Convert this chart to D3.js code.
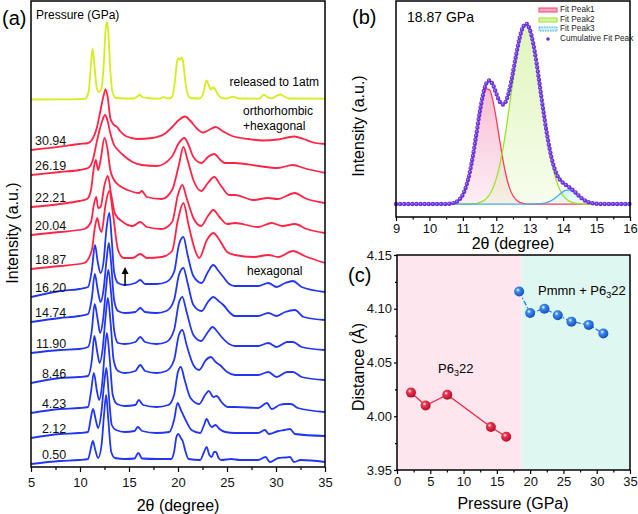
<!DOCTYPE html>
<html>
<head>
<meta charset="utf-8">
<script src="https://cdn.jsdelivr.net/npm/d3@7"></script>
<style>
  body { margin: 0; background: #fff; }
  svg { display: block; font-family: "Liberation Sans", Arial, sans-serif; }
</style>
</head>
<body>
<svg id="fig"></svg>
<script>
// ---------- data: panel (a), XRD patterns [2theta, intensity a.u.] ----------
const released = [[5,367.5],[8.95,367.7],[10.52,368.2],[10.87,375],[11.12,402],[11.29,418.5],[11.47,402],[11.71,379],[11.95,375],[12.2,379],[12.45,407],[12.61,437],[12.75,445],[12.89,435],[13.09,397],[13.34,374],[13.68,369],[15.46,368.5],[15.85,370.5],[16.1,372.5],[16.34,370],[17.33,368.5],[18.02,368.3],[18.51,369.8],[19.01,368.5],[19.4,370],[19.7,387],[19.9,405],[20.04,408.5],[20.21,407],[20.37,409.5],[20.54,404],[20.73,387],[20.98,373],[21.28,369],[22.16,368.5],[22.56,373],[22.76,382],[22.92,386.5],[23.1,383],[23.35,377.5],[23.54,379.5],[23.74,378.5],[24.04,373],[24.43,369.2],[25.02,368.5],[25.62,370.4],[26.21,368.5],[28.28,368.4],[28.77,372.3],[29.17,369.5],[29.56,368.7],[30.06,371.2],[30.45,372.5],[30.84,370.5],[31.34,368.5],[35,368.3]];
const p3094 = [[5,317],[7.96,320.3],[9.93,323],[10.82,324],[11.21,327],[11.71,339],[12.1,357],[12.4,371],[12.61,377.5],[12.84,369],[13.09,349],[13.38,343],[13.78,340],[14.08,336],[14.67,331],[15.85,328],[17.33,329],[18.61,333],[19.4,340],[20.09,347],[20.72,350.5],[21.28,346],[21.97,338],[22.56,334.5],[23.15,337],[23.84,340],[24.53,336],[25.52,331],[27.2,328],[28.68,326.5],[30.16,327.5],[31.84,330.5],[32.83,328],[33.62,325],[35,323]];
const p2619 = [[5,292],[7.96,295],[9.93,297],[10.82,299],[11.31,307],[11.71,325],[12.0,337],[12.3,347],[12.56,352],[12.79,347],[13.09,334],[13.48,322],[13.88,317],[14.39,312],[15.36,305],[16.34,302],[17.82,301],[19.35,310],[20.09,324],[20.64,329],[21.08,322],[21.57,310],[22.41,304],[23.05,310],[23.7,313],[24.33,307],[24.78,304],[25.81,304],[28.18,301],[30.16,299],[31.73,302],[32.83,299],[33.62,297],[35,294]];
const p2221 = [[5,260],[7.96,263],[9.93,266],[10.72,268],[11.12,277],[11.41,299],[11.61,307],[11.85,297],[12.1,307],[12.5,329],[12.79,319],[13.09,297],[13.48,287],[14.08,281],[14.86,277],[16.05,274],[16.29,276],[16.83,270],[18.32,268],[19.4,277],[20.09,302],[20.55,320],[20.98,307],[21.57,287],[22.36,276],[23.05,284],[23.7,290],[24.33,282],[25.22,272],[25.81,272],[27.69,267],[29.17,269],[30.16,268],[31.93,274],[32.92,269],[35,264]];
const p2004 = [[5,232],[7.96,235],[10.43,238],[11.12,245],[11.41,262],[11.66,270],[11.85,259],[12.1,260],[12.5,282],[12.84,291],[13.19,272],[13.58,253],[14.37,245],[15.36,241],[16.15,245],[16.83,240],[18.32,238],[19.4,245],[19.99,272],[20.44,282],[20.88,269],[21.57,249],[22.36,241],[23.05,251],[23.6,257],[24.23,250],[25.02,243],[25.81,244],[28.18,240],[29.56,244],[30.65,241],[31.93,243],[33.12,238],[35,234]];
const p1887 = [[5,198],[7.96,201],[10.43,204],[11.21,217],[11.51,239],[11.76,249],[12.0,239],[12.2,235],[12.6,262],[12.99,276],[13.38,252],[13.88,217],[14.47,209],[15.36,209],[16.15,213],[16.83,209],[18.32,210],[19.4,216],[19.99,247],[20.55,264],[21.08,242],[21.67,219],[22.16,209],[22.95,227],[23.6,234],[24.23,227],[25.02,215],[25.81,212],[27.69,210],[29.22,212],[30.25,210],[31.73,216],[32.92,211],[35,204]];
const p1620 = [[5,170],[7.96,176],[9.93,178],[10.82,180],[11.21,197],[11.53,222],[11.81,205],[12.1,194],[12.4,205],[12.69,237],[12.99,254],[13.24,227],[13.48,195],[13.88,184],[14.57,182],[15.65,184],[16.15,187],[16.64,183],[17.82,183],[18.81,185],[19.6,195],[20.09,222],[20.55,230],[20.98,212],[21.57,191],[22.41,184],[23.05,195],[23.6,202],[24.14,196],[24.63,190],[25.22,183],[25.81,181],[28.18,181],[29.22,184],[30.06,180],[30.94,184],[31.73,186],[32.62,180],[35,175]];
const p1474 = [[5,145],[7.96,149],[9.93,151],[10.82,153],[11.21,169],[11.51,193],[11.81,177],[12.1,165],[12.4,177],[12.69,205],[12.94,224],[13.19,202],[13.48,167],[13.88,156],[14.57,154],[15.65,155],[16.15,159],[16.64,155],[17.82,154],[18.81,156],[19.6,167],[20.09,192],[20.55,199],[20.98,184],[21.57,162],[22.41,156],[23.05,165],[23.6,170],[24.14,166],[24.63,162],[25.22,155],[25.81,151],[28.18,151],[29.22,154],[30.06,151],[30.94,155],[31.93,157],[32.83,150],[35,147]];
const p1190 = [[5,114],[7.96,117],[9.93,118],[10.82,120],[11.21,137],[11.49,163],[11.81,147],[12.05,134],[12.35,147],[12.64,177],[12.89,197],[13.19,172],[13.48,137],[13.88,124],[14.57,123],[15.65,125],[16.15,130],[16.64,125],[17.82,123],[18.81,125],[19.6,137],[20.09,164],[20.44,170],[20.88,155],[21.57,132],[22.36,126],[23.05,135],[23.53,140],[24.04,135],[24.45,130],[25.22,123],[25.81,121],[28.18,121],[29.22,124],[30.06,120],[31.14,125],[31.73,125],[32.62,120],[35,117]];
const p846 = [[5,84],[7.96,89],[9.93,90],[10.82,91],[11.21,107],[11.46,131],[11.76,115],[12.0,104],[12.3,117],[12.6,149],[12.84,169],[13.14,142],[13.43,107],[13.88,96],[14.57,94],[15.65,96],[16.15,102],[16.64,96],[17.82,94],[18.81,96],[19.6,107],[20.09,132],[20.44,137],[20.88,122],[21.57,102],[22.16,97],[22.85,107],[23.35,110],[23.84,105],[24.28,102],[25.02,95],[25.81,92],[28.18,92],[29.22,95],[30.06,90],[31.14,95],[31.73,95],[32.62,90],[35,87]];
const p423 = [[5,54],[7.96,58],[9.93,59],[10.82,60],[11.12,75],[11.41,94],[11.71,77],[11.95,67],[12.25,82],[12.5,112],[12.74,134],[13.04,107],[13.34,72],[13.78,63],[14.57,61],[15.65,62],[16.0,67],[16.44,62],[17.82,60],[19.01,62],[19.6,72],[19.99,95],[20.29,100],[20.68,87],[21.28,69],[22.16,63],[22.76,72],[23.15,76],[23.6,70],[23.94,71],[24.43,65],[25.12,60],[25.81,60],[28.18,59],[29.07,64],[29.56,58],[30.35,62],[30.94,63],[31.53,63],[32.22,59],[35,55]];
const p212 = [[5,29],[7.96,33],[9.93,34],[10.82,35],[11.07,47],[11.33,58],[11.61,47],[11.85,39],[12.15,52],[12.45,82],[12.69,99],[12.94,72],[13.24,42],[13.68,37],[14.57,35],[15.56,36],[15.9,40],[16.34,36],[17.82,34],[19.11,35],[19.6,47],[19.96,64],[20.29,57],[20.68,49],[21.38,37],[22.26,34],[22.66,42],[22.92,48],[23.25,42],[23.44,40],[23.84,42],[24.23,38],[24.83,35],[25.81,34],[28.18,34],[28.87,37],[29.27,33],[30.25,36],[30.84,37],[31.43,38],[31.93,33],[35,31]];
const p050 = [[5,3],[7.96,6],[9.93,7],[10.82,8],[11.07,17],[11.31,26],[11.56,17],[11.85,9],[12.2,22],[12.45,52],[12.67,72],[12.89,47],[13.19,15],[13.58,9],[14.57,8],[15.56,8.5],[15.95,14],[16.34,8.5],[17.82,8],[19.3,8],[19.6,15],[19.84,30],[20.03,33],[20.29,29],[20.48,26],[20.78,15],[21.08,8],[22.26,7],[22.66,15],[22.92,20],[23.2,12],[23.44,10],[23.69,15],[23.87,15],[24.14,9],[24.43,7],[25.42,8],[26.3,7],[28.18,7],[28.94,10],[29.37,5],[30.25,9],[30.94,9.5],[31.43,10],[31.83,5],[32.52,7],[35,5]];

const spectra     = [released, p3094, p2619, p2221, p2004, p1887, p1620, p1474, p1190, p846, p423, p212, p050];
const phases      = ['released','ortho','ortho','ortho','ortho','ortho','hex','hex','hex','hex','hex','hex','hex'];
const pressLabels = ['', '30.94','26.19','22.21','20.04','18.87','16.20','14.74','11.90','8.46','4.23','2.12','0.50'];
const xTicksA     = [5, 10, 15, 20, 25, 30, 35];

// ---------- data: panel (b), peak fit at 18.87 GPa ----------
const fitPeak1 = [[10.4,0],[10.6,0.17],[10.7,0.45],[10.8,1.1],[10.9,2.5],[11.0,5.2],[11.1,9.8],[11.2,16.9],[11.3,26.5],[11.4,37.9],[11.5,49.5],[11.6,58.9],[11.7,64.0],[11.8,63.4],[11.9,57.3],[12.0,47.3],[12.1,35.6],[12.2,24.4],[12.3,15.3],[12.4,8.7],[12.5,4.6],[12.6,2.2],[12.7,0.9],[12.8,0.4],[12.9,0.1],[13.0,0],[15.2,0]];
const fitPeak2 = [[10.4,0],[11.2,0.1],[11.3,0.2],[11.4,0.4],[11.5,0.85],[11.6,1.6],[11.7,3.0],[11.8,5.3],[11.9,8.9],[12.0,14.1],[12.1,21.4],[12.2,30.9],[12.3,42.3],[12.4,55.3],[12.5,68.7],[12.6,81.2],[12.7,91.5],[12.8,98.0],[12.9,100],[13.0,97.1],[13.1,89.7],[13.2,78.9],[13.3,66.0],[13.4,52.6],[13.5,39.9],[13.6,28.8],[13.7,19.8],[13.8,12.9],[13.9,8.05],[14.0,4.8],[14.1,2.7],[14.2,1.45],[14.3,0.74],[14.4,0.36],[14.5,0.17],[14.6,0],[15.2,0]];
const fitPeak3 = [[10.4,0],[13.1,0],[13.2,0.05],[13.3,0.14],[13.4,0.34],[13.5,0.75],[13.6,1.45],[13.7,2.5],[13.8,3.95],[13.9,5.5],[14.0,6.9],[14.1,7.7],[14.2,7.7],[14.3,6.9],[14.4,5.5],[14.5,3.95],[14.6,2.5],[14.7,1.45],[14.8,0.75],[14.9,0.34],[15.0,0.14],[15.1,0.05],[15.2,0]];
const cumulative = [[9.0,0],[10.3,0],[10.5,0.06],[10.6,0.17],[10.7,0.45],[10.8,1.1],[10.9,2.5],[11.0,5.2],[11.1,9.9],[11.2,17.0],[11.3,26.7],[11.4,38.3],[11.5,50.4],[11.6,60.5],[11.7,67.0],[11.8,68.7],[11.9,66.2],[12.0,61.4],[12.1,57.0],[12.2,55.3],[12.3,57.6],[12.4,64.0],[12.5,73.3],[12.6,83.4],[12.7,92.4],[12.8,98.4],[12.9,100.1],[13.0,97.1],[13.1,89.7],[13.2,79.0],[13.3,66.1],[13.4,52.9],[13.5,40.7],[13.6,30.3],[13.7,22.3],[13.8,16.9],[13.9,13.6],[14.0,11.7],[14.1,10.4],[14.2,9.1],[14.3,7.6],[14.4,5.9],[14.5,4.1],[14.6,2.6],[14.7,1.5],[14.8,0.8],[14.9,0.34],[15.0,0.14],[15.1,0.05],[15.3,0],[16.0,0]];
const legendB = ['Fit Peak1', 'Fit Peak2', 'Fit Peak3', 'Cumulative Fit Peak'];

// ---------- data: panel (c), distance vs pressure ----------
const pressHex  = [2.1, 4.3, 7.55, 14.1, 16.4];
const distHex   = [4.022, 4.010, 4.020, 3.990, 3.981];
const pressMix  = [18.35, 20.0, 22.15, 24.15, 26.2, 28.8, 31.0];
const distMix   = [4.116, 4.096, 4.100, 4.094, 4.088, 4.085, 4.077];
const boundary  = 18.7;

// ---------- setup ----------
const svg = d3.select('#fig').attr('width', 638).attr('height', 514);
const defs = svg.append('defs');
const colors = { released: '#d4ee1c', ortho: '#ff2446', hex: '#2236f2' };

function styleAxis(g, size) {
  g.select('.domain').remove();
  g.selectAll('.tick line').attr('stroke', '#000').attr('stroke-width', 1.2);
  g.selectAll('.tick text').attr('font-size', size).attr('fill', '#111')
    .attr('font-family', '"Liberation Sans", Arial, sans-serif');
}
function frame(x, y, w, h) {
  svg.append('rect').attr('x', x).attr('y', y).attr('width', w).attr('height', h)
    .attr('fill', 'none').attr('stroke', '#000').attr('stroke-width', 1.5);
}

// ================= panel (a) =================
const xA = d3.scaleLinear().domain([5, 35]).range([31, 325]);
const yA = d3.scaleLinear().domain([0, 466]).range([467, 1]);

defs.append('clipPath').attr('id', 'clipA')
  .append('rect').attr('x', 31).attr('y', 1).attr('width', 294).attr('height', 466);

const lineA = d3.line().x(d => xA(d[0])).y(d => yA(d[1])).curve(d3.curveMonotoneX);

svg.append('g').attr('clip-path', 'url(#clipA)')
  .selectAll('path')
  .data(spectra)
  .enter()
  .append('path')
    .attr('d', lineA)
    .attr('fill', 'none')
    .attr('stroke', (d, i) => colors[phases[i]])
    .attr('stroke-width', 1.8)
    .attr('stroke-linejoin', 'round');

// pressure labels
svg.append('g')
  .selectAll('text')
  .data(spectra.slice(1))
  .enter()
  .append('text')
    .attr('x', xA(8.6))
    .attr('y', d => yA(d[0][1]) - 8)
    .attr('text-anchor', 'end')
    .attr('dominant-baseline', 'middle')
    .attr('font-size', 12.5)
    .attr('fill', '#111')
    .text((d, i) => pressLabels[i + 1]);

// axis
svg.append('g').attr('transform', 'translate(0,467)')
  .call(d3.axisBottom(xA).tickValues(xTicksA).tickSize(5).tickPadding(6))
  .call(g => styleAxis(g, 13));
svg.append('g').attr('transform', 'translate(0,467)')
  .call(d3.axisBottom(xA).tickValues(xTicksA.slice(1).map(v => v - 2.5)).tickSize(3).tickFormat(''))
  .call(g => styleAxis(g, 13));
frame(31, 1, 294, 466);

// arrow
const arrowX = xA(14.6);
svg.append('line').attr('x1', arrowX).attr('x2', arrowX)
  .attr('y1', yA(181)).attr('y2', yA(198))
  .attr('stroke', '#000').attr('stroke-width', 1.5);
svg.append('path')
  .attr('d', `M${arrowX - 3.5},${yA(193)} L${arrowX},${yA(200)} L${arrowX + 3.5},${yA(193)} Z`)
  .attr('fill', '#000');

// texts
svg.append('text').attr('x', 2).attr('y', 25).attr('font-size', 20).text('(a)');
svg.append('text').attr('x', 36).attr('y', 19).attr('font-size', 12).text('Pressure (GPa)');
svg.append('text').attr('x', 319).attr('y', 86).attr('text-anchor', 'end').attr('font-size', 12).text('released to 1atm');
svg.append('text').attr('x', 243).attr('y', 115).attr('font-size', 12).text('orthorhombic');
svg.append('text').attr('x', 243).attr('y', 130).attr('font-size', 12).text('+hexagonal');
svg.append('text').attr('x', 247).attr('y', 275).attr('font-size', 12).text('hexagonal');
svg.append('text').attr('x', 178).attr('y', 511).attr('text-anchor', 'middle').attr('font-size', 16).text('2θ (degree)');
svg.append('text').attr('transform', 'translate(18,233) rotate(-90)')
  .attr('text-anchor', 'middle').attr('font-size', 16).text('Intensity (a.u.)');

// ================= panel (b) =================
const xB = d3.scaleLinear().domain([9, 16]).range([396, 630]);
const yB = d3.scaleLinear().domain([-7.2, 112.8]).range([217, 1]);

const fitStyles = [
  { data: fitPeak1, line: '#ff3a5c', fill: '#f7a9c8' },
  { data: fitPeak2, line: '#9be32a', fill: '#d6f3a6' },
  { data: fitPeak3, line: '#4aa9e6', fill: '#bff0f2' }
];
fitStyles.forEach((s, i) => {
  const gr = defs.append('linearGradient').attr('id', 'gradB' + i)
    .attr('x1', 0).attr('y1', 0).attr('x2', 0).attr('y2', 1);
  gr.append('stop').attr('offset', '0%').attr('stop-color', s.fill).attr('stop-opacity', 0.75);
  gr.append('stop').attr('offset', '100%').attr('stop-color', s.fill).attr('stop-opacity', 0.2);
});

const areaB = d3.area().x(d => xB(d[0])).y0(yB(0)).y1(d => yB(d[1])).curve(d3.curveMonotoneX);
const lineB = d3.line().x(d => xB(d[0])).y(d => yB(d[1])).curve(d3.curveMonotoneX);

svg.append('g').selectAll('path').data(fitStyles).enter().append('path')
  .attr('d', d => areaB(d.data))
  .attr('fill', (d, i) => `url(#gradB${i})`);
svg.append('g').selectAll('path').data(fitStyles).enter().append('path')
  .attr('d', d => lineB(d.data))
  .attr('fill', 'none')
  .attr('stroke', d => d.line)
  .attr('stroke-width', 1.3);

// cumulative fit: dotted
svg.append('path').attr('d', lineB(cumulative))
  .attr('fill', 'none').attr('stroke', '#6a33dc').attr('stroke-width', 4.4)
  .attr('stroke-linecap', 'round').attr('stroke-dasharray', '0 4.1');
svg.append('path').attr('d', lineB(cumulative))
  .attr('fill', 'none').attr('stroke', '#b9a0f4').attr('stroke-width', 1.5)
  .attr('stroke-linecap', 'round').attr('stroke-dasharray', '0 4.1')
  .attr('transform', 'translate(-0.4,-0.4)');

svg.append('g').attr('transform', 'translate(0,217)')
  .call(d3.axisBottom(xB).ticks(7).tickSize(4).tickPadding(3).tickFormat(d3.format('d')))
  .call(g => styleAxis(g, 13));
svg.append('g').attr('transform', 'translate(0,217)')
  .call(d3.axisBottom(xB).tickValues(d3.range(9.5, 16, 1)).tickSize(2.5).tickFormat(''))
  .call(g => styleAxis(g, 13));
frame(396, 1, 234, 216);

// legend
const legY = [10, 20, 29, 39];
const lg = svg.append('g');
fitStyles.forEach((s, i) => {
  lg.append('rect').attr('x', 539).attr('y', legY[i] - 2).attr('width', 18).attr('height', 4)
    .attr('fill', s.fill).attr('stroke', s.line).attr('stroke-width', 1)
    .attr('stroke-dasharray', i === 2 ? '1.5 1' : null);
});
lg.append('circle').attr('cx', 548).attr('cy', legY[3]).attr('r', 1.8).attr('fill', '#6a33dc');
lg.selectAll('text').data(legendB).enter().append('text')
  .attr('x', 560).attr('y', (d, i) => legY[i])
  .attr('dominant-baseline', 'middle')
  .attr('font-size', 8.2).attr('fill', '#222')
  .text(d => d);

svg.append('text').attr('x', 352).attr('y', 24).attr('font-size', 20).text('(b)');
svg.append('text').attr('x', 407).attr('y', 22).attr('font-size', 14).text('18.87 GPa');
svg.append('text').attr('x', 513).attr('y', 249).attr('text-anchor', 'middle').attr('font-size', 16).text('2θ (degree)');
svg.append('text').attr('transform', 'translate(364,126) rotate(-90)')
  .attr('text-anchor', 'middle').attr('font-size', 16).text('Intensity (a.u.)');

// ================= panel (c) =================
const xC = d3.scaleLinear().domain([0, 35]).range([397, 630]);
const yC = d3.scaleLinear().domain([3.95, 4.15]).range([470, 255]);

svg.append('rect').attr('x', xC(0)).attr('y', yC(4.15))
  .attr('width', xC(boundary) - xC(0)).attr('height', yC(3.95) - yC(4.15))
  .attr('fill', '#fde6ee');
svg.append('rect').attr('x', xC(boundary)).attr('y', yC(4.15))
  .attr('width', xC(35) - xC(boundary)).attr('height', yC(3.95) - yC(4.15))
  .attr('fill', '#def7f1');

function sphereGrad(id, base, dark) {
  const g = defs.append('radialGradient').attr('id', id)
    .attr('cx', '38%').attr('cy', '35%').attr('r', '65%');
  g.append('stop').attr('offset', '0%').attr('stop-color', '#ffffff');
  g.append('stop').attr('offset', '30%').attr('stop-color', base);
  g.append('stop').attr('offset', '100%').attr('stop-color', dark);
}
sphereGrad('sphRed', '#f0334f', '#b0102a');
sphereGrad('sphBlue', '#3d8cf0', '#1750b8');

const hexPts = pressHex.map((p, i) => [p, distHex[i]]);
const mixPts = pressMix.map((p, i) => [p, distMix[i]]);
const lineC = d3.line().x(d => xC(d[0])).y(d => yC(d[1]));

svg.append('path').attr('d', lineC(hexPts)).attr('fill', 'none')
  .attr('stroke', '#ee2244').attr('stroke-width', 1.3);
svg.append('path').attr('d', lineC(mixPts)).attr('fill', 'none')
  .attr('stroke', '#2d7de8').attr('stroke-width', 1.3).attr('stroke-dasharray', '5 2 1.5 2');

svg.append('g').selectAll('circle').data(hexPts).enter().append('circle')
  .attr('cx', d => xC(d[0])).attr('cy', d => yC(d[1])).attr('r', 5)
  .attr('fill', 'url(#sphRed)');
svg.append('g').selectAll('circle').data(mixPts).enter().append('circle')
  .attr('cx', d => xC(d[0])).attr('cy', d => yC(d[1])).attr('r', 5)
  .attr('fill', 'url(#sphBlue)');

svg.append('g').attr('transform', 'translate(0,470)')
  .call(d3.axisBottom(xC).tickValues(d3.range(0, 36, 5)).tickSize(4).tickPadding(3))
  .call(g => styleAxis(g, 13));
svg.append('g').attr('transform', 'translate(0,470)')
  .call(d3.axisBottom(xC).tickValues(d3.range(2.5, 35, 5)).tickSize(2.5).tickFormat(''))
  .call(g => styleAxis(g, 13));
svg.append('g').attr('transform', 'translate(397,0)')
  .call(d3.axisLeft(yC).tickValues([3.95, 4.00, 4.05, 4.10, 4.15]).tickSize(3).tickPadding(2).tickFormat(d3.format('.2f')))
  .call(g => styleAxis(g, 13));
svg.append('g').attr('transform', 'translate(397,0)')
  .call(d3.axisLeft(yC).tickValues([3.975, 4.025, 4.075, 4.125]).tickSize(2).tickFormat(''))
  .call(g => styleAxis(g, 13));
frame(397, 255, 233, 215);

svg.append('text').attr('x', 348).attr('y', 282).attr('font-size', 20).text('(c)');
const t1 = svg.append('text').attr('x', 438).attr('y', 373).attr('font-size', 13);
t1.append('tspan').text('P6');
t1.append('tspan').attr('font-size', 9).attr('dy', 3).text('3');
t1.append('tspan').attr('dy', -3).text('22');
const t2 = svg.append('text').attr('x', 538).attr('y', 295).attr('font-size', 13);
t2.append('tspan').text('Pmmn + P6');
t2.append('tspan').attr('font-size', 9).attr('dy', 3).text('3');
t2.append('tspan').attr('dy', -3).text('22');
svg.append('text').attr('x', 513).attr('y', 509).attr('text-anchor', 'middle').attr('font-size', 16).text('Pressure (GPa)');
svg.append('text').attr('transform', 'translate(364,367) rotate(-90)')
  .attr('text-anchor', 'middle').attr('font-size', 16).text('Distance (Å)');
</script>
</body>
</html>
